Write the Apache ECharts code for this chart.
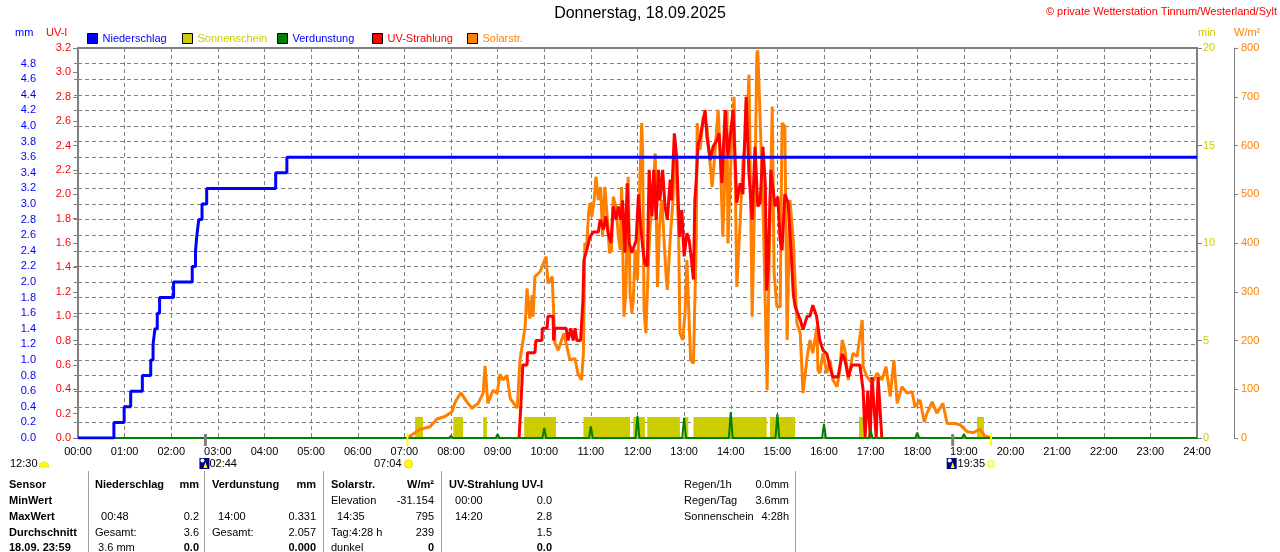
<!DOCTYPE html>
<html><head><meta charset="utf-8">
<script src="https://cdn.jsdelivr.net/npm/echarts@6/dist/echarts.min.js"></script>
<style>html,body{margin:0;padding:0;background:#fff}#c{width:1280px;height:552px}</style>
</head><body><div id="c"></div>
<script>
const FONT = '"Liberation Sans", Arial, sans-serif';
const titleText = 'Donnerstag, 18.09.2025';
const copyrightText = '\u00a9 private Wetterstation Tinnum/Westerland/Sylt';
const hourLabels = ['00:00','01:00','02:00','03:00','04:00','05:00','06:00','07:00','08:00','09:00','10:00','11:00','12:00','13:00','14:00','15:00','16:00','17:00','18:00','19:00','20:00','21:00','22:00','23:00','24:00'];

// Niederschlag (cumulative mm), [hour, mm]
const rainData = [[0,0],[0.77,0.2],[0.99,0.4],[1.13,0.6],[1.38,0.8],[1.56,1.0],[1.61,1.2],[1.65,1.4],[1.70,1.6],[1.75,1.8],[2.05,2.0],[2.45,2.2],[2.52,2.4],[2.55,2.6],[2.59,2.8],[2.66,3.0],[2.76,3.2],[4.24,3.4],[4.48,3.6],[24,3.6]];

// Verdunstung (mm per hour)
const evapHours  = [1, 8, 9, 10, 11, 12, 13, 14, 15, 16, 17, 18, 19, 20, 21, 23];
const evapValues = [0.01, 0.03, 0.05, 0.13, 0.15, 0.28, 0.26, 0.331, 0.31, 0.18, 0.10, 0.07, 0.05, 0.02, 0.01, 0.01];

// Sonnenschein blocks [start hour, end hour, minutes]
const sunBlocks = [[7.23,7.40,1.08],[8.05,8.26,1.08],[8.69,8.77,1.08],[9.57,10.25,1.08],[10.84,11.84,1.08],[11.91,12.16,1.08],[12.21,12.91,1.08],[13.00,13.09,1.08],[13.20,14.77,1.08],[14.84,15.38,1.08],[16.75,16.84,1.08],[19.28,19.43,1.08]];

// UV-Strahlung [hour, UV-I]
const uvData = [[9.46,0],[9.50,0.28],[9.54,0.6],[9.63,0.6],[9.64,0.7],[9.80,0.7],[9.82,0.8],[9.95,0.8],[9.96,0.9],[10.06,0.9],[10.08,1.0],[10.19,1.0],[10.20,0.8],[10.23,0.9],[10.47,0.9],[10.51,0.8],[10.57,0.9],[10.62,0.8],[10.66,0.9],[10.70,0.8],[10.78,0.8],[10.83,1.13],[10.85,1.46],[10.91,1.54],[10.98,1.65],[11.05,1.69],[11.16,1.69],[11.20,1.79],[11.27,1.71],[11.32,1.82],[11.37,1.68],[11.43,1.60],[11.48,1.9],[11.54,1.79],[11.59,1.9],[11.64,1.79],[11.68,1.95],[11.73,1.52],[11.78,2.09],[11.82,1.60],[11.88,1.52],[11.97,1.62],[12.02,2.0],[12.07,1.73],[12.11,1.57],[12.16,1.43],[12.21,1.41],[12.25,2.2],[12.31,1.82],[12.35,2.2],[12.40,1.79],[12.45,2.2],[12.48,1.95],[12.54,2.2],[12.59,1.9],[12.64,1.79],[12.70,2.12],[12.73,1.95],[12.79,2.5],[12.84,2.31],[12.90,1.65],[12.95,1.87],[13.00,1.49],[13.06,1.68],[13.11,1.62],[13.16,1.45],[13.20,1.30],[13.23,1.95],[13.26,2.12],[13.30,2.42],[13.34,2.45],[13.41,2.61],[13.45,2.69],[13.49,2.47],[13.56,2.28],[13.62,2.39],[13.71,2.45],[13.75,2.5],[13.81,2.09],[13.88,2.69],[13.94,2.31],[14.05,2.69],[14.13,1.93],[14.20,2.09],[14.26,2.0],[14.33,2.8],[14.39,2.17],[14.46,1.79],[14.52,2.39],[14.58,1.9],[14.63,1.93],[14.69,2.39],[14.74,2.09],[14.77,1.21],[14.80,1.38],[14.86,2.2],[14.95,1.9],[15.01,1.98],[15.06,1.62],[15.10,1.54],[15.16,2.0],[15.23,1.93],[15.29,1.57],[15.34,1.19],[15.38,1.08],[15.42,1.08],[15.49,0.97],[15.55,0.89],[15.64,1.0],[15.70,1.0],[15.76,1.09],[15.84,1.0],[15.91,0.8],[15.98,0.72],[16.06,0.69],[16.13,0.58],[16.19,0.5],[16.30,0.5],[16.39,0.69],[16.45,0.64],[16.52,0.5],[16.60,0.6],[16.77,0.6],[16.84,0.39],[16.88,0],[16.94,0.39],[16.99,0],[17.03,0.5],[17.12,0],[17.16,0.5],[17.20,0.5],[17.24,0]];

// Solarstrahlung [hour, W/m²]
const solarData = [[7.06,0],[7.08,3],[7.34,18],[7.55,23],[7.70,39],[7.87,44],[8.02,54],[8.09,74],[8.21,93],[8.34,74],[8.45,61],[8.58,71],[8.69,92],[8.73,148],[8.79,71],[8.90,98],[8.99,92],[9.05,131],[9.12,119],[9.20,129],[9.27,81],[9.37,68],[9.42,61],[9.48,160],[9.59,228],[9.63,307],[9.69,245],[9.74,293],[9.76,249],[9.80,331],[9.91,341],[10.04,372],[10.08,317],[10.17,331],[10.23,194],[10.30,180],[10.42,215],[10.55,160],[10.66,163],[10.72,133],[10.80,119],[10.84,174],[10.87,400],[10.91,392],[10.95,461],[10.98,482],[11.02,454],[11.07,488],[11.11,536],[11.16,488],[11.21,515],[11.25,413],[11.30,515],[11.35,454],[11.40,379],[11.44,385],[11.48,495],[11.54,474],[11.59,413],[11.63,386],[11.66,515],[11.71,249],[11.75,297],[11.80,536],[11.84,297],[11.88,256],[11.91,283],[11.95,386],[12.00,324],[12.05,522],[12.09,646],[12.11,585],[12.14,263],[12.18,215],[12.23,351],[12.27,433],[12.33,488],[12.38,584],[12.43,310],[12.47,433],[12.52,488],[12.55,440],[12.61,338],[12.64,304],[12.70,406],[12.76,488],[12.80,604],[12.88,433],[12.91,215],[12.97,201],[13.02,256],[13.06,365],[13.09,283],[13.14,160],[13.20,153],[13.26,406],[13.28,646],[13.34,591],[13.41,659],[13.49,639],[13.60,515],[13.66,584],[13.73,673],[13.77,591],[13.83,413],[13.92,673],[13.94,399],[14.03,639],[14.07,700],[14.09,700],[14.13,310],[14.20,440],[14.26,563],[14.35,646],[14.39,745],[14.46,249],[14.52,529],[14.56,789],[14.58,795],[14.67,543],[14.71,406],[14.78,98],[14.82,345],[14.89,680],[14.93,338],[14.99,269],[15.06,269],[15.10,646],[15.16,639],[15.21,201],[15.27,488],[15.34,406],[15.42,235],[15.49,215],[15.55,92],[15.64,167],[15.70,201],[15.76,174],[15.85,228],[15.87,139],[15.91,133],[15.98,174],[16.06,133],[16.13,160],[16.19,119],[16.28,105],[16.34,139],[16.39,201],[16.45,180],[16.52,119],[16.62,174],[16.71,167],[16.82,242],[16.84,146],[16.92,126],[17.03,112],[17.14,133],[17.24,119],[17.33,146],[17.42,85],[17.50,160],[17.57,71],[17.67,105],[17.78,92],[17.89,95],[17.95,64],[18.06,78],[18.15,33],[18.21,51],[18.32,74],[18.42,51],[18.55,71],[18.64,30],[18.77,30],[18.92,27],[19.07,13],[19.20,11],[19.35,18],[19.45,4],[19.52,2],[19.58,0]];

// Sun / moon events below the time axis
const astroEvents = [
  {time: 2.733, kind: 'moon', label: '02:44'},
  {time: 7.067, kind: 'sunrise', label: '07:04'},
  {time: 18.76, kind: 'moon', label: ''},
  {time: 19.583, kind: 'sunset', label: '19:35'}
];
const noonLabel = '12:30';

// Legend entries
const legendNames = ['Niederschlag','Sonnenschein','Verdunstung','UV-Strahlung','Solarstr.'];
const legendTextColors = ['#0000ff','#cccc00','#0000ff','#ff0000','#ff8000'];
const legendLeft = [87, 182, 277, 372, 467];

// Statistics table
const tableRows = [
  ['Sensor','Niederschlag','mm','Verdunstung','mm','Solarstr.','W/m\u00b2','UV-Strahlung UV-I',''],
  ['MinWert','','','','','Elevation','-31.154','  00:00','0.0'],
  ['MaxWert','  00:48','0.2','  14:00','0.331','  14:35','795','  14:20','2.8'],
  ['Durchschnitt','Gesamt:','3.6','Gesamt:','2.057','Tag:4:28 h','239','','1.5'],
  ['18.09. 23:59',' 3.6 mm','0.0','','0.000','dunkel','0','','0.0']
];
const infoRows = [['Regen/1h','0.0mm'],['Regen/Tag','3.6mm'],['Sonnenschein','4:28h']];

// ---- layout (styles only) ----
const colX = [9, 95, 199, 212, 316, 331, 434, 449, 552];
const colAlign = ['left','left','right','left','right','left','right','left','right'];
const rowY = [485, 501, 517, 533, 548];
const dividerX = [88.5, 204.5, 323.5, 441.5, 795.5];

const evapSeries = [[0,0]];
evapHours.forEach((h,i)=>{ evapSeries.push([h-0.04,0],[h,evapValues[i]],[h+0.04,0]); });
evapSeries.push([24,0]);

const chart = echarts.init(document.getElementById('c'), null, {renderer:'canvas'});
const dash = {color:'#808080', type:[4,3], width:1};
const lbl = (c, m) => ({color:c, fontSize:11, fontFamily:FONT, margin:m});

const option = {
  animation: false,
  backgroundColor: '#fff',
  title: {text: titleText, left: 'center', top: 6, padding: 0,
    textStyle: {fontSize: 16, fontWeight: 'normal', color: '#000', fontFamily: FONT}},
  legend: legendNames.map((n,i)=>({
    left: legendLeft[i], top: 33, padding: 0, itemWidth: 10, itemHeight: 10, icon: 'rect',
    selectedMode: false, data: [{name: n, textStyle: {color: legendTextColors[i]}}],
    textStyle: {fontSize: 11, fontFamily: FONT},
    itemStyle: {borderColor: '#000', borderWidth: 1}
  })),
  grid: {left: 78, right: 83, top: 48, bottom: 114, containLabel: false, outerBoundsMode: 'none',
    show: true, borderColor: '#808080', borderWidth: 2, backgroundColor: 'transparent'},
  xAxis: {type: 'value', min: 0, max: 24, interval: 1,
    axisLine: {show: true, lineStyle: {color: '#808080'}}, axisTick: {show: false},
    axisLabel: Object.assign(lbl('#000', 8), {formatter: v => hourLabels[Math.round(v)]}),
    splitLine: {show: true, lineStyle: dash}},
  yAxis: [
    {type:'value', position:'left', offset:38, min:0, max:5, interval:0.2,
     axisLine:{show:true, lineStyle:{color:'#808080'}},
     axisTick:{show:true, length:4, lineStyle:{color:'#808080'}},
     axisLabel:Object.assign(lbl('#0000ff', 4), {formatter: v => v > 4.9 ? '' : v.toFixed(1)}),
     splitLine:{show:true, lineStyle:dash}},
    {type:'value', position:'left', offset:0, min:0, max:3.2, interval:0.2,
     axisLine:{show:false}, axisTick:{show:true, length:5, lineStyle:{color:'#808080'}},
     axisLabel:Object.assign(lbl('#ff0000', 7), {formatter: v => v.toFixed(1)}),
     splitLine:{show:false}},
    {type:'value', position:'right', offset:0, min:0, max:20, interval:5,
     axisLine:{show:false}, axisTick:{show:true, length:5, lineStyle:{color:'#808080'}},
     axisLabel:lbl('#cccc00', 6), splitLine:{show:false}},
    {type:'value', position:'right', offset:37, min:0, max:800, interval:100,
     axisLine:{show:true, lineStyle:{color:'#808080'}}, axisTick:{show:true, length:4, lineStyle:{color:'#808080'}},
     axisLabel:lbl('#ff8000', 7), splitLine:{show:false}}
  ],
  series: [
    {name:'Sonnenschein', type:'custom', xAxisIndex:0, yAxisIndex:2, data:sunBlocks, z:2,
     encode:{x:[0,1], y:2}, itemStyle:{color:'#cccc00'},
     renderItem:(params, api)=>{
       const p0 = api.coord([api.value(0), 0]);
       const p1 = api.coord([api.value(1), api.value(2)]);
       return {type:'rect', shape:{x:p0[0], y:p1[1], width:p1[0]-p0[0], height:p0[1]-p1[1]}, style:{fill:'#cccc00'}};
     }},
    {name:'Solarstr.', type:'line', yAxisIndex:3, data:solarData, z:3, symbol:'none',
     lineStyle:{color:'#ff8000', width:3}, itemStyle:{color:'#ff8000'}},
    {name:'UV-Strahlung', type:'line', yAxisIndex:1, data:uvData, z:4, symbol:'none',
     lineStyle:{color:'#ff0000', width:3}, itemStyle:{color:'#ff0000'}},
    {name:'Verdunstung', type:'line', yAxisIndex:0, data:evapSeries, z:5, symbol:'none',
     lineStyle:{color:'#008000', width:2}, itemStyle:{color:'#008000'}},
    {name:'Niederschlag', type:'line', yAxisIndex:0, data:rainData, step:'end', z:6, symbol:'none',
     lineStyle:{color:'#0000ff', width:3}, itemStyle:{color:'#0000ff'}}
  ]
};
chart.setOption(option);

function txt(x, y, text, fill, align, bold) {
  return {type:'text', x:x, y:y, silent:true, z:10,
    style:{text:text, fill:fill, font:(bold?'bold ':'')+'11px '+FONT,
      align:align||'left', verticalAlign:'middle', textAlign:align||'left', textVerticalAlign:'middle'}};
}
const els = [];
els.push(txt(1277, 12, copyrightText, '#ff0000', 'right'));
els.push(txt(15, 33, 'mm', '#0000ff'));
els.push(txt(46, 33, 'UV-I', '#ff0000'));
els.push(txt(1198, 33, 'min', '#cccc00'));
els.push(txt(1234, 33, 'W/m\u00b2', '#ff8000'));

// table
tableRows.forEach((row, r) => {
  row.forEach((cell, c) => {
    if (!cell) return;
    const bold = r === 0 || c === 0 || (r === 4 && colAlign[c] === 'right');
    els.push(txt(colX[c], rowY[r], cell, '#000', colAlign[c], bold));
  });
});
infoRows.forEach((row, r) => {
  els.push(txt(684, rowY[r], row[0], '#000', 'left'));
  els.push(txt(789, rowY[r], row[1], '#000', 'right'));
});
dividerX.forEach(x => els.push({type:'line', silent:true, shape:{x1:x, y1:471, x2:x, y2:552}, style:{stroke:'#a0a0a0', lineWidth:1}}));

// astro events
const yBase = chart.convertToPixel({yAxisIndex:0}, 0);
els.push(txt(10, 464, noonLabel, '#000', 'left'));
els.push({type:'sector', silent:true, shape:{cx:44, cy:467, r:5, startAngle:Math.PI, endAngle:2*Math.PI}, style:{fill:'#ffff00', stroke:'#e0c000', lineWidth:0.5}});
astroEvents.forEach(ev => {
  const x = chart.convertToPixel({xAxisIndex:0}, ev.time);
  if (ev.kind === 'moon') {
    els.push({type:'rect', silent:true, z:11, shape:{x:x-1.5, y:yBase-4, width:3, height:12}, style:{fill:'#808080'}});
    els.push({type:'rect', silent:true, shape:{x:x-6, y:458, width:10, height:11}, style:{fill:'#000080'}});
    els.push({type:'circle', silent:true, shape:{cx:x-3, cy:460.5, r:2}, style:{fill:'#ffffff'}});
    els.push({type:'polygon', silent:true, shape:{points:[[x,462],[x+2,468],[x-2,468]]}, style:{fill:'#ffff00'}});
    if (ev.label) els.push(txt(x+4, 464, ev.label, '#000', 'left'));
  } else {
    els.push({type:'rect', silent:true, z:11, shape:{x:x-1, y:yBase-5, width:2, height:13}, style:{fill:'#ffff00'}});
    if (ev.kind === 'sunrise') {
      els.push({type:'circle', silent:true, shape:{cx:x+1, cy:464, r:4}, style:{fill:'#ffff00', stroke:'#f0d000', lineWidth:1}});
    } else {
      els.push({type:'circle', silent:true, shape:{cx:x, cy:464, r:3}, style:{fill:'#ffffff', stroke:'#ffff00', lineWidth:1.5}});
    }
    els.push(txt(x-6, 464, ev.label, '#000', 'right'));
  }
});
chart.setOption({graphic:{elements:els}});
</script></body></html>
